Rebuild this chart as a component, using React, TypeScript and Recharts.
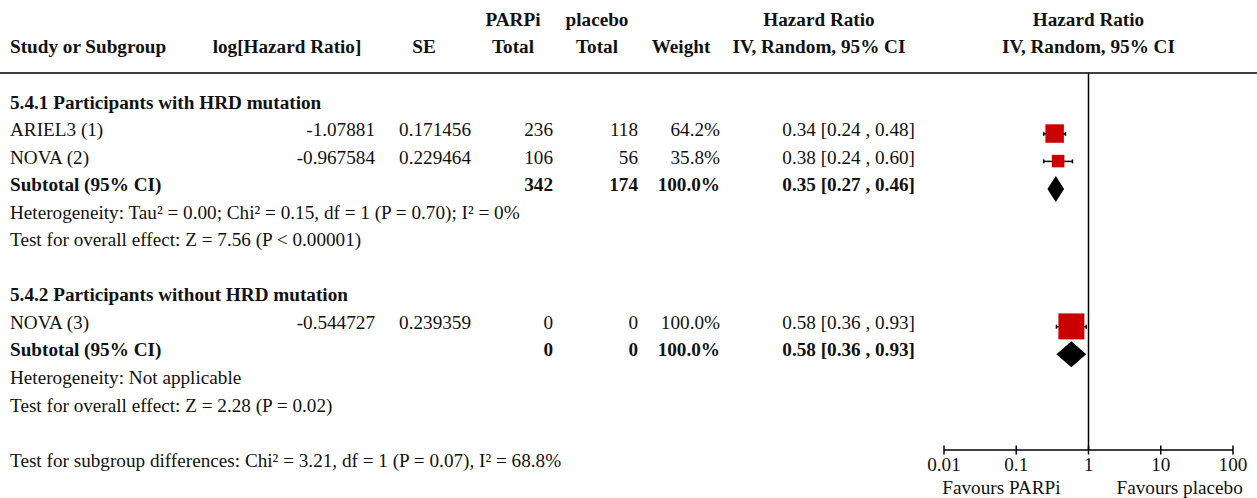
import React from 'react';
import { ComposedChart, XAxis, YAxis, Bar, Scatter, ReferenceLine } from 'recharts';

// ---- data ----
const groupTitles = ['5.4.1 Participants with HRD mutation', '5.4.2 Participants without HRD mutation'];

const studyLabels = ['ARIEL3 (1)', 'NOVA (2)', 'NOVA (3)'];
const studyGroup = [0, 0, 1];
const logHazardRatio = ['-1.07881', '-0.967584', '-0.544727'];
const standardError = ['0.171456', '0.229464', '0.239359'];
const parpiTotal = [236, 106, 0];
const placeboTotal = [118, 56, 0];
const studyWeight = [64.2, 35.8, 100.0];
const studyHR = [0.34, 0.38, 0.58];
const studyLow = [0.24, 0.24, 0.36];
const studyHigh = [0.48, 0.6, 0.93];

const subtotalParpi = [342, 0];
const subtotalPlacebo = [174, 0];
const subtotalWeight = [100.0, 100.0];
const subtotalHR = [0.35, 0.58];
const subtotalLow = [0.27, 0.36];
const subtotalHigh = [0.46, 0.93];

const heterogeneity = [
  'Heterogeneity: Tau² = 0.00; Chi² = 0.15, df = 1 (P = 0.70); I² = 0%',
  'Heterogeneity: Not applicable',
];
const overallEffect = [
  'Test for overall effect: Z = 7.56 (P < 0.00001)',
  'Test for overall effect: Z = 2.28 (P = 0.02)',
];
const subgroupDifferences = 'Test for subgroup differences: Chi² = 3.21, df = 1 (P = 0.07), I² = 68.8%';

const headerTop = ['', '', '', 'PARPi', 'placebo', '', 'Hazard Ratio', 'Hazard Ratio'];
const headerBottom = [
  'Study or Subgroup',
  'log[Hazard Ratio]',
  'SE',
  'Total',
  'Total',
  'Weight',
  'IV, Random, 95% CI',
  'IV, Random, 95% CI',
];
const axisTicks = [0.01, 0.1, 1, 10, 100];
const favourLabels = ['Favours PARPi', 'Favours placebo'];

// ---- layout ----
const W = 1257;
const H = 498;
const FONT = '"Liberation Serif", "Times New Roman", serif';
const FS = 19.2;
const INK = '#111';
const RED = '#cc0000';
// header columns are centred, body columns right-aligned (label column left-aligned)
const HEAD_X = [10, 287, 424, 513, 597, 681, 819];
const BODY_X = [10, 375, 471, 553, 638, 720, 915];
// row index -> pixel: the y axis spans the full height, one row ~27.5px
const ROW_TOP = -3.848;
const ROW_BOTTOM = 14.229;
const RULE_ROW = -1.2;
const AXIS_ROW = 12.49;

const fmtCI = (hr: number, lo: number, hi: number) =>
  `${hr.toFixed(2)} [${lo.toFixed(2)} , ${hi.toFixed(2)}]`;

type TextRow = { row: number; hr: number; kind: string; bold?: boolean; cells: string[] };
type CiRow = { row: number; hr: number; ci: [number, number]; kind: string; weight: number };

const textRows: TextRow[] = [
  { row: -3, hr: 1, kind: 'header', cells: headerTop },
  { row: -2, hr: 1, kind: 'header', cells: headerBottom },
  { row: RULE_ROW, hr: 1, kind: 'rule', cells: [] },
];
const ciRows: CiRow[] = [];

let r = 0;
groupTitles.forEach((title, g) => {
  textRows.push({ row: r, hr: 1, kind: 'body', bold: true, cells: [title] });
  r++;
  studyLabels.forEach((label, i) => {
    if (studyGroup[i] !== g) return;
    textRows.push({
      row: r,
      hr: 1,
      kind: 'body',
      cells: [
        label,
        logHazardRatio[i],
        standardError[i],
        String(parpiTotal[i]),
        String(placeboTotal[i]),
        `${studyWeight[i].toFixed(1)}%`,
        fmtCI(studyHR[i], studyLow[i], studyHigh[i]),
      ],
    });
    ciRows.push({ row: r, hr: studyHR[i], ci: [studyLow[i], studyHigh[i]], kind: 'study', weight: studyWeight[i] });
    r++;
  });
  textRows.push({
    row: r,
    hr: 1,
    kind: 'body',
    bold: true,
    cells: [
      'Subtotal (95% CI)',
      '',
      '',
      String(subtotalParpi[g]),
      String(subtotalPlacebo[g]),
      `${subtotalWeight[g].toFixed(1)}%`,
      fmtCI(subtotalHR[g], subtotalLow[g], subtotalHigh[g]),
    ],
  });
  ciRows.push({ row: r, hr: subtotalHR[g], ci: [subtotalLow[g], subtotalHigh[g]], kind: 'subtotal', weight: subtotalWeight[g] });
  r++;
  textRows.push({ row: r, hr: 1, kind: 'body', cells: [heterogeneity[g]] });
  r++;
  textRows.push({ row: r, hr: 1, kind: 'body', cells: [overallEffect[g]] });
  r += 2;
});
textRows.push({ row: r, hr: 1, kind: 'body', cells: [subgroupDifferences] });
textRows.push({ row: r + 1, hr: 1, kind: 'favours', cells: favourLabels });

const squareRows = ciRows.filter((d) => d.kind === 'study');
const tickRows = axisTicks.map((t) => ({ row: AXIS_ROW, hr: t }));

const textProps = { fontFamily: FONT, fontSize: FS, fill: INK };

const TableRow = (props: any) => {
  const { cx, cy, payload } = props;
  const p = payload as TextRow;
  if (p.kind === 'rule') {
    return <line x1={0} x2={W} y1={cy} y2={cy} stroke="#000" strokeWidth={1.5} />;
  }
  const base = cy + 2.5;
  if (p.kind === 'favours') {
    return (
      <g>
        <text {...textProps} x={cx - 28} y={base} textAnchor="end">{p.cells[0]}</text>
        <text {...textProps} x={cx + 28} y={base} textAnchor="start">{p.cells[1]}</text>
      </g>
    );
  }
  if (p.kind === 'header') {
    return (
      <g>
        {p.cells.map((t, i) =>
          t ? (
            <text
              key={i}
              {...textProps}
              fontWeight="bold"
              x={i < HEAD_X.length ? HEAD_X[i] : cx}
              y={base}
              textAnchor={i === 0 ? 'start' : 'middle'}
            >
              {t}
            </text>
          ) : null,
        )}
      </g>
    );
  }
  return (
    <g>
      {p.cells.map((t, i) =>
        t ? (
          <text
            key={i}
            {...textProps}
            fontWeight={p.bold ? 'bold' : 'normal'}
            x={BODY_X[i]}
            y={base}
            textAnchor={i === 0 ? 'start' : 'end'}
          >
            {t}
          </text>
        ) : null,
      )}
    </g>
  );
};

const WeightSquare = (props: any) => {
  const { cx, cy, payload } = props;
  const side = 5 + 0.21 * payload.weight;
  return <rect x={cx - side / 2} y={cy - side / 2} width={side} height={side} fill={RED} />;
};

const CiShape = (props: any) => {
  const { x, y, width, height, payload } = props;
  const mid = y + height / 2;
  if (payload.kind === 'subtotal') {
    const c = x + width / 2;
    return (
      <polygon
        points={`${x},${mid} ${c},${mid - 13} ${x + width},${mid} ${c},${mid + 13}`}
        fill="#000"
      />
    );
  }
  return (
    <g stroke="#000" strokeWidth={1.5}>
      <line x1={x} x2={x + width} y1={mid} y2={mid} />
      <line x1={x} x2={x} y1={mid - 2} y2={mid + 2} />
      <line x1={x + width} x2={x + width} y1={mid - 2} y2={mid + 2} />
    </g>
  );
};

const AxisTick = (props: any) => {
  const { cx, cy, payload } = props;
  return (
    <g>
      <line x1={cx} x2={cx} y1={cy - 4.5} y2={cy + 4.5} stroke="#000" strokeWidth={1.5} />
      <text {...textProps} x={cx} y={cy + 21} textAnchor="middle">
        {String(payload.hr)}
      </text>
    </g>
  );
};

export default function App() {
  return (
    <div style={{ position: 'absolute', left: 0, top: 0, width: W, height: H, background: '#fff' }}>
      <ComposedChart
        width={W}
        height={H}
        layout="vertical"
        data={ciRows}
        margin={{ top: 0, right: 24, bottom: 0, left: 944 }}
      >
        <XAxis type="number" dataKey="hr" scale="log" domain={[0.01, 100]} hide />
        <YAxis type="number" dataKey="row" domain={[ROW_TOP, ROW_BOTTOM]} hide />
        <ReferenceLine
          segment={[{ x: 1, y: RULE_ROW }, { x: 1, y: AXIS_ROW }]}
          stroke="#000"
          strokeWidth={1.5}
        />
        <ReferenceLine
          segment={[{ x: 0.01, y: AXIS_ROW }, { x: 100, y: AXIS_ROW }]}
          stroke="#000"
          strokeWidth={1.5}
        />
        <Bar dataKey="ci" barSize={20} shape={<CiShape />} isAnimationActive={false} />
        <Scatter data={squareRows} shape={<WeightSquare />} isAnimationActive={false} />
        <Scatter data={tickRows} shape={<AxisTick />} isAnimationActive={false} />
        <Scatter data={textRows} shape={<TableRow />} isAnimationActive={false} />
      </ComposedChart>
    </div>
  );
}
